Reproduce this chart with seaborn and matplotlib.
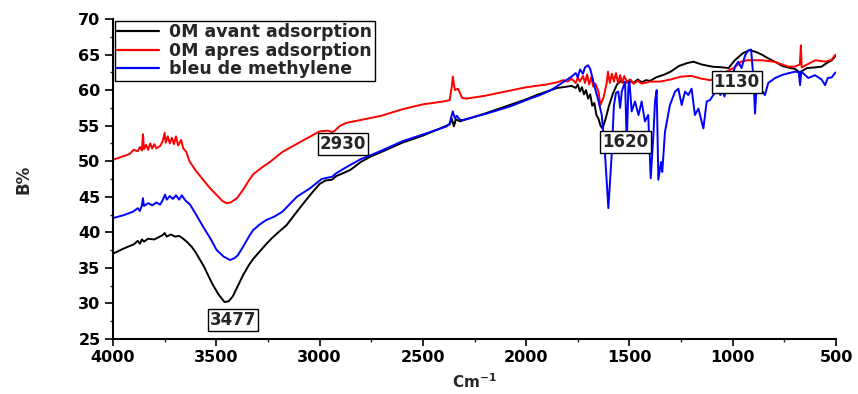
import numpy as np
import pandas as pd
import matplotlib
matplotlib.use("Agg")
import matplotlib.pyplot as plt
import seaborn as sns
from matplotlib.ticker import MultipleLocator

# ---------------- data ----------------
labels = ["0M avant adsorption", "0M apres adsorption", "bleu de methylene"]
colors = ["#000000", "#ff0000", "#0000ff"]

black_wn = [4000, 3950, 3900, 3880, 3870, 3860, 3850, 3830, 3800, 3780, 3760, 3750, 3740, 3720, 3700,
            3680, 3660, 3640, 3620, 3600, 3560, 3520, 3490, 3460, 3440, 3420, 3400, 3370, 3340, 3320,
            3290, 3260, 3230, 3200, 3160, 3110, 3050, 3000, 2970, 2940, 2920, 2880, 2850, 2800, 2750,
            2700, 2600, 2500, 2450, 2400, 2370, 2360, 2350, 2340, 2320, 2300, 2200, 2100, 2000, 1950,
            1900, 1850, 1800, 1780, 1760, 1750, 1740, 1730, 1720, 1710, 1700, 1690, 1680, 1670, 1660,
            1650, 1640, 1630, 1615, 1600, 1580, 1560, 1540, 1520, 1500, 1480, 1460, 1440, 1420, 1400,
            1370, 1330, 1300, 1260, 1220, 1190, 1150, 1100, 1050, 1020, 990, 950, 920, 890, 860,
            830, 790, 760, 720, 700, 680, 675, 670, 640, 600, 570, 540, 520, 500]
black_val = [37.0, 37.7, 38.3, 38.8, 38.4, 39.0, 38.7, 39.1, 39.0, 39.3, 39.6, 39.9, 39.4, 39.7, 39.4,
             39.5, 39.1, 38.6, 38.0, 37.2, 35.2, 32.8, 31.3, 30.2, 30.3, 31.0, 32.2, 34.0, 35.5, 36.3,
             37.3, 38.3, 39.2, 40.0, 41.0, 42.9, 45.1, 46.8, 47.3, 47.4, 47.9, 48.4, 48.8, 49.9, 50.7,
             51.3, 52.6, 53.6, 54.2, 54.8, 55.2, 56.0, 54.9, 55.9, 55.6, 55.8, 56.7, 57.7, 58.7, 59.3,
             59.8, 60.3, 60.5, 60.6, 60.3, 60.8, 59.8, 60.4, 59.4, 60.0, 58.8, 59.4, 57.8, 58.2, 56.5,
             56.0, 55.0, 54.6, 56.0, 57.7, 59.5, 60.8, 61.3, 61.0, 61.4, 61.0, 61.5, 61.1, 61.4, 61.3,
             61.8, 62.2, 62.6, 63.4, 63.8, 64.0, 63.6, 63.3, 63.2, 63.1, 64.2, 65.2, 65.6, 65.4, 65.0,
             64.5, 63.9, 63.4, 63.1, 63.0, 62.6, 61.8, 62.6, 63.1, 63.2, 63.3, 63.9, 64.2, 64.9]

red_wn = [4000, 3950, 3920, 3900, 3880, 3870, 3860, 3855, 3850, 3840, 3830, 3820, 3810, 3800, 3790,
          3780, 3770, 3760, 3750, 3745, 3735, 3725, 3715, 3705, 3695, 3685, 3670, 3660, 3645, 3630,
          3600, 3564, 3530, 3500, 3470, 3450, 3430, 3400, 3370, 3340, 3320, 3280, 3240, 3180, 3100,
          3050, 3000, 2960, 2940, 2930, 2900, 2870, 2800, 2700, 2600, 2500, 2400, 2370, 2360, 2355,
          2345, 2330, 2310, 2290, 2200, 2100, 2000, 1950, 1900, 1850, 1820, 1800, 1780, 1760, 1750,
          1740, 1725, 1715, 1705, 1695, 1685, 1675, 1665, 1650, 1640, 1625, 1610, 1604, 1595, 1585,
          1575, 1565, 1555, 1545, 1535, 1525, 1510, 1495, 1480, 1460, 1440, 1400, 1350, 1300, 1250,
          1200, 1150, 1110, 1080, 1030, 990, 960, 930, 860, 800, 760, 730, 700, 675, 670,
          666, 640, 600, 550, 520, 505, 500]
red_val = [50.2, 50.7, 51.0, 51.6, 51.4, 52.0, 51.5, 53.8, 51.7, 52.3, 51.6, 52.5, 51.8, 52.4, 51.8,
           52.0, 52.2, 52.8, 54.0, 52.6, 53.5, 52.5, 53.3, 52.4, 53.5, 52.2, 53.0, 51.8, 51.3, 50.0,
           48.7, 47.4, 46.2, 45.3, 44.4, 44.1, 44.2, 44.8, 46.0, 47.4, 48.2, 49.1, 49.9, 51.3, 52.6,
           53.4, 54.2, 54.3, 54.1, 54.2, 55.0, 55.4, 55.8, 56.4, 57.3, 58.0, 58.4, 58.6, 60.5, 61.9,
           60.0, 60.2, 58.9, 58.8, 59.2, 59.8, 60.4, 60.6, 60.8, 61.1, 61.4, 61.2, 61.6, 61.0, 61.8,
           61.2, 62.0, 61.0, 62.2, 60.8, 61.8, 60.5, 60.9, 59.8, 57.9, 59.0, 61.0, 62.6, 61.0, 62.3,
           61.2, 62.4, 61.0, 62.1, 61.0, 62.0, 61.0, 61.5, 60.9, 61.3, 60.9, 61.2, 61.2, 61.5, 61.9,
           62.0, 61.6, 61.4, 61.6, 62.6, 63.2, 64.0, 64.2, 64.2, 64.0, 63.6, 63.3, 63.3, 63.6, 66.3,
           63.2, 63.6, 64.2, 64.0, 64.3, 64.9, 65.0]

blue_wn = [4000, 3950, 3903, 3880, 3870, 3860, 3855, 3850, 3830, 3810, 3790, 3772, 3760, 3748, 3740,
           3725, 3710, 3695, 3680, 3667, 3650, 3627, 3600, 3564, 3530, 3498, 3465, 3434, 3410, 3395,
           3370, 3340, 3322, 3290, 3260, 3220, 3180, 3140, 3110, 3046, 2990, 2960, 2940, 2920, 2880,
           2850, 2800, 2707, 2600, 2465, 2385, 2370, 2362, 2355, 2345, 2336, 2320, 2306, 2191, 2078,
           1981, 1933, 1880, 1822, 1780, 1760, 1750, 1739, 1725, 1715, 1700, 1690, 1680, 1667, 1650,
           1634, 1618, 1602, 1586, 1575, 1565, 1554, 1545, 1537, 1521, 1513, 1505, 1500, 1489, 1473,
           1456, 1441, 1425, 1409, 1397, 1384, 1376, 1368, 1360, 1347, 1341, 1328, 1304, 1279, 1263,
           1247, 1231, 1215, 1199, 1183, 1166, 1142, 1126, 1110, 1094, 1078, 1070, 1060, 1050, 1040,
           1029, 1005, 997, 989, 973, 965, 957, 940, 924, 911, 899, 892, 884, 868, 860,
           844, 828, 795, 763, 740, 698, 680, 674, 668, 634, 602, 570, 553, 540, 520,
           505, 500]
blue_val = [42.0, 42.4, 42.9, 43.4, 43.0, 43.8, 44.8, 43.7, 44.1, 43.8, 44.2, 43.9, 44.5, 45.3, 44.6,
            45.1, 44.7, 45.2, 44.6, 45.2, 44.5, 43.9, 42.6, 40.8, 39.2, 37.5, 36.6, 36.1, 36.4, 36.8,
            38.0, 39.5, 40.3, 41.1, 41.7, 42.2, 42.9, 44.1, 45.0, 46.2, 47.5, 47.7, 47.8, 48.3, 49.0,
            49.5, 50.3, 51.4, 52.8, 54.1, 54.9, 55.3, 56.3, 57.0, 56.0, 56.4, 55.8, 55.8, 56.7, 57.7,
            58.8, 59.3, 60.0, 61.1, 61.9, 62.4, 61.8, 62.9, 62.3, 63.2, 63.5, 63.0, 61.8, 60.3, 58.5,
            56.5, 50.9, 43.4, 50.9, 57.9, 59.6, 59.8, 57.5, 59.8, 61.2, 52.3, 60.5, 61.2, 57.0, 58.4,
            56.5, 58.4, 55.6, 56.5, 47.6, 53.7, 58.5, 60.0, 47.4, 49.9, 48.5, 54.1, 57.9, 59.8, 60.2,
            57.9, 59.8, 59.3, 60.2, 56.5, 57.4, 54.6, 58.4, 58.6, 59.3, 60.0, 60.2, 59.3, 60.0, 59.1,
            60.5, 61.4, 62.4, 63.3, 64.0, 63.5, 63.1, 64.9, 65.6, 65.7, 61.4, 56.7, 60.7, 60.5, 60.0,
            59.3, 61.0, 61.7, 62.1, 62.3, 62.6, 62.5, 60.7, 62.6, 61.7, 62.1, 61.5, 60.7, 61.7, 61.8,
            62.4, 62.5]

peak_labels = ["3477", "2930", "1620", "1130"]
peak_x = [3419, 2887, 1519, 981]
peak_y = [27.7, 52.4, 52.75, 61.2]

x_ticks = [4000, 3500, 3000, 2500, 2000, 1500, 1000, 500]
y_ticks = [25, 30, 35, 40, 45, 50, 55, 60, 65, 70]

# ---------------- build table ----------------
frames = []
for lab, wn, val in [(labels[0], black_wn, black_val),
                     (labels[1], red_wn, red_val),
                     (labels[2], blue_wn, blue_val)]:
    frames.append(pd.DataFrame({"wn": wn, "val": val, "series": lab}))
df = pd.concat(frames, ignore_index=True)

# ---------------- plot ----------------
sns.set_style("ticks")
plt.rcParams["font.family"] = ["DejaVu Sans"]
plt.rcParams["font.weight"] = "bold"

fig = plt.figure(figsize=(8.58, 3.94), dpi=100)
ax = fig.add_axes([113 / 858, 1 - 339 / 394, (836 - 113) / 858, (339 - 19) / 394])

sns.lineplot(data=df, x="wn", y="val", hue="series", hue_order=labels,
             palette=dict(zip(labels, colors)), estimator=None, sort=True,
             linewidth=1.4, ax=ax)

ax.set_xlim(4000, 500)
ax.set_ylim(25, 70)
ax.set_xticks(x_ticks)
ax.set_yticks(y_ticks)
ax.xaxis.set_minor_locator(MultipleLocator(250))
ax.yaxis.set_minor_locator(MultipleLocator(2.5))
ax.tick_params(axis="both", which="major", direction="out", length=5, width=1.2,
               labelsize=11.5, pad=3, colors="black")
ax.tick_params(axis="y", which="major", length=6)
ax.tick_params(axis="both", which="minor", direction="out", length=2.5, width=1.0)
for lbl in ax.get_xticklabels() + ax.get_yticklabels():
    lbl.set_fontweight("bold")

for side in ["top", "right"]:
    ax.spines[side].set_visible(False)
for side in ["left", "bottom"]:
    ax.spines[side].set_linewidth(1.5)
    ax.spines[side].set_color("black")

ax.set_xlabel("Cm$^{\\mathbf{-1}}$", fontsize=11, fontweight="bold", labelpad=5)
ax.set_ylabel("B%", fontsize=12, fontweight="bold")
ax.yaxis.set_label_coords(-0.112, 0.5)

for t, xx, yy in zip(peak_labels, peak_x, peak_y):
    ax.text(xx, yy, t, ha="center", va="center", fontsize=12, fontweight="bold",
            bbox=dict(boxstyle="square,pad=0.12", facecolor="white", edgecolor="black",
                      linewidth=1.0), zorder=5)

leg = ax.legend(loc="upper left", bbox_to_anchor=(0.0, 1.0), borderaxespad=0.1,
                frameon=True, fancybox=False, edgecolor="black", framealpha=1,
                prop={"weight": "bold", "size": 12.5}, handlelength=2.4,
                labelspacing=0.02, borderpad=0.15, handletextpad=0.6, title=None)
leg.get_frame().set_linewidth(1.0)
for h in leg.get_lines():
    h.set_linewidth(1.6)

fig.savefig("out.png", dpi=100)
